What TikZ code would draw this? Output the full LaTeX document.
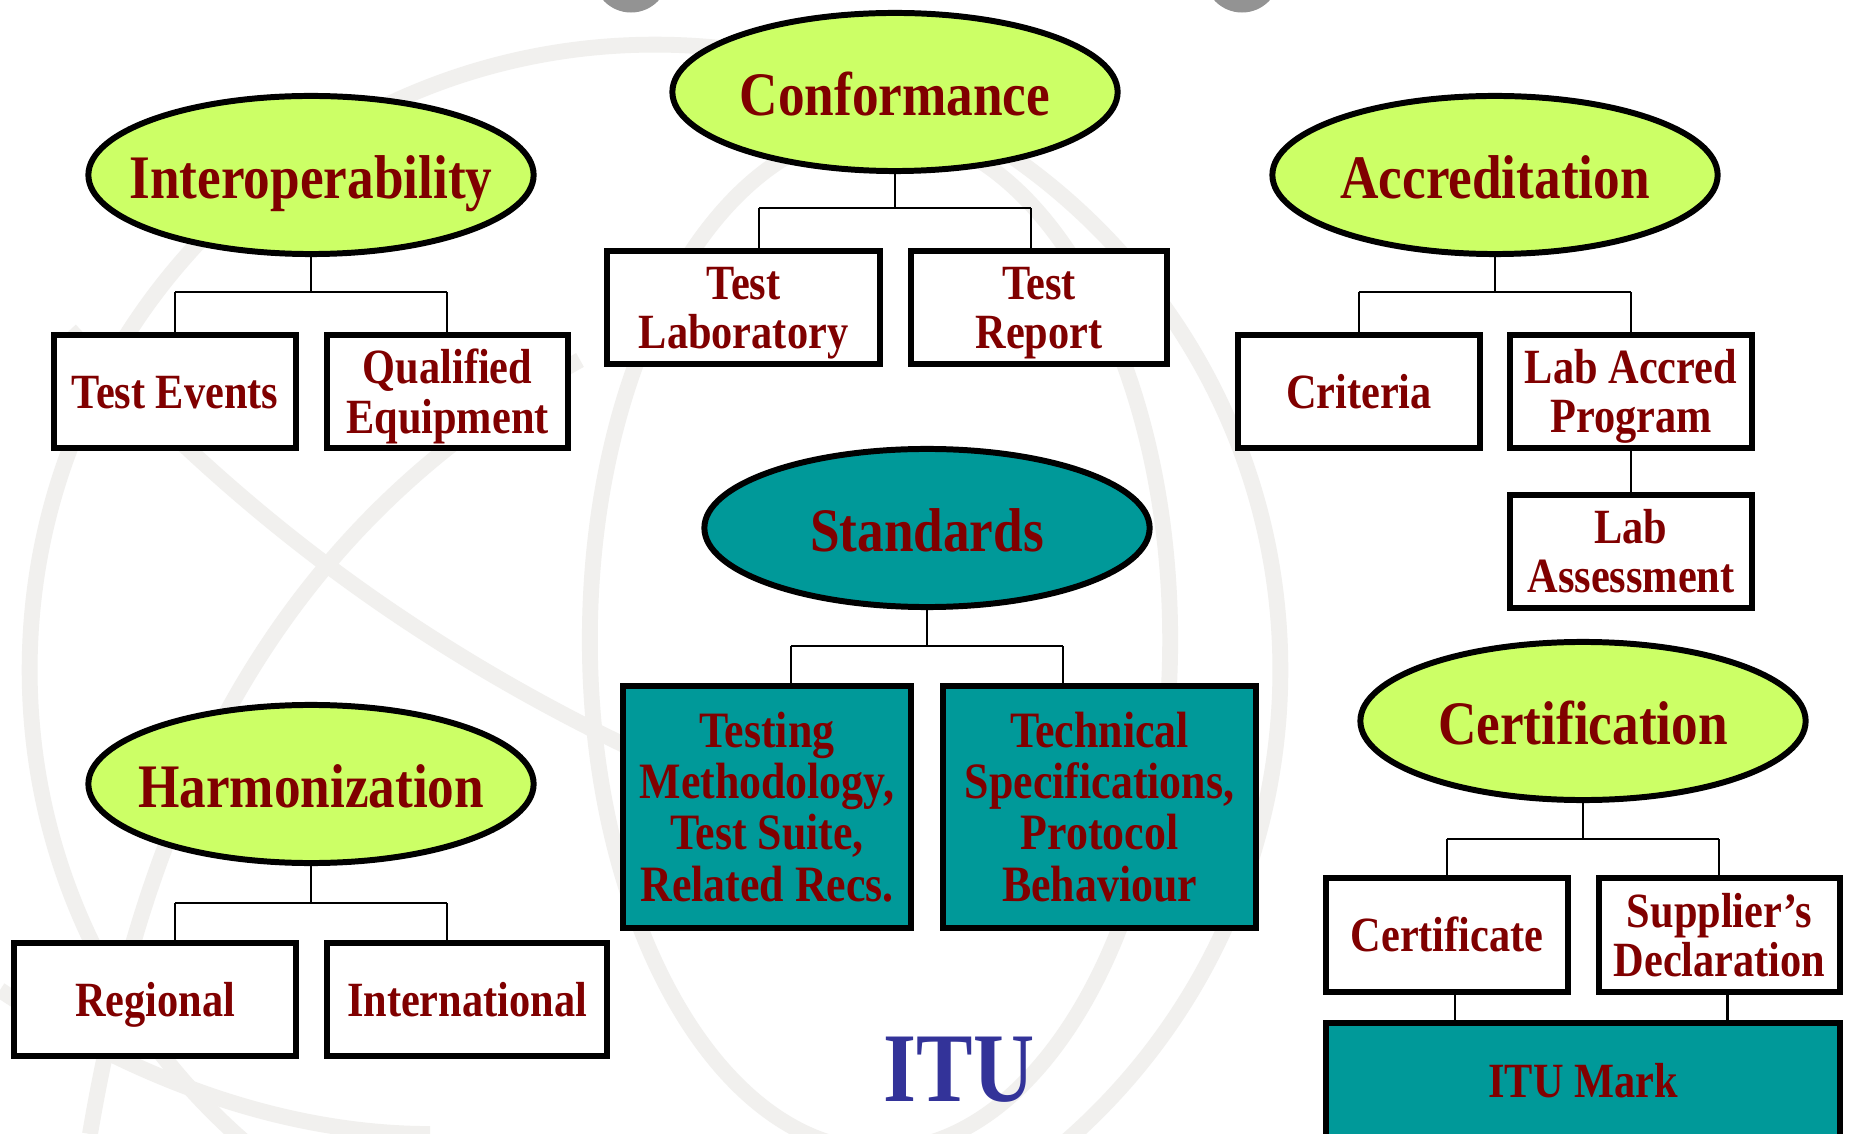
\documentclass[tikz,border=0pt]{standalone}
\usepackage{fontspec}
\usetikzlibrary{shapes.geometric}
\newfontfamily\labfont[FakeStretch=0.86]{Liberation Serif}
\definecolor{lgreen}{HTML}{CCFF66}
\definecolor{dred}{HTML}{800000}
\definecolor{tealc}{HTML}{009999}
\definecolor{globe}{HTML}{F1F0EE}
\definecolor{itublue}{HTML}{333399}
\tikzset{
  ell/.style={ellipse, draw=black, line width=1.7pt, fill=lgreen, minimum width=4.45cm, minimum height=1.58cm, inner sep=0pt},
  etxt/.style={anchor=base, inner sep=0pt, text=dred, font={\labfont\bfseries\fontsize{17.6pt}{20pt}\selectfont}},
  boxn/.style={rectangle, draw=black, line width=1.6pt, fill=white, inner sep=0pt},
  btxt/.style={inner sep=0pt, align=center, text=dred, font={\labfont\bfseries\fontsize{14pt}{14pt}\selectfont}},
  ttxt/.style={btxt, font={\labfont\bfseries\fontsize{14.5pt}{14.6pt}\selectfont}},
  conn/.style={line width=0.6pt, draw=black},
  globeline/.style={draw=globe, line width=4.5pt}
}
\begin{document}
\begin{tikzpicture}[x=0.01cm,y=-0.01cm]
\useasboundingbox (0,0) rectangle (1849,1134);
\fill[white] (0,0) rectangle (1849,1134);
% background globe
\begin{scope}
\clip (0,0) rectangle (1849,1134);
\draw[globeline] (655,670) circle[radius=6.25cm];
\draw[globeline] (70,330) .. controls (200,470) and (380,640) .. (700,780);
\draw[globeline] (90,1134) .. controls (150,780) and (290,520) .. (580,360);
\draw[globeline] (880,640) ellipse[x radius=2.9cm, y radius=5.1cm];
\draw[globeline] (0,990) .. controls (150,1090) and (300,1134) .. (430,1134);
\fill[gray!85] (631,-25) circle[radius=0.375cm];
\fill[gray!85] (1242,-25) circle[radius=0.375cm];
\end{scope}
% ellipses
\node[ell] (CF) at (895,92) {};
\node[ell] (IO) at (311,175) {};
\node[ell] (AC) at (1495,175) {};
\node[ell, fill=tealc] (ST) at (927,528) {};
\node[ell] (CT) at (1583,721) {};
\node[ell] (HM) at (311,784) {};
\node[etxt] (CFt) at ([yshift=-6.6pt]CF.center) {Conformance};
\node[etxt] (IOt) at ([yshift=-6.6pt]IO.center) {Interoperability};
\node[etxt] (ACt) at ([yshift=-6.6pt]AC.center) {Accreditation};
\node[etxt] (STt) at ([yshift=-6.6pt]ST.center) {Standards};
\node[etxt] (CTt) at ([yshift=-6.6pt]CT.center) {Certification};
\node[etxt] (HMt) at ([yshift=-6.6pt]HM.center) {Harmonization};
% boxes
\node[boxn, minimum width=2.42cm, minimum height=1.13cm] (TE) at (175,391.5) {};
\node[boxn, minimum width=2.41cm, minimum height=1.13cm] (QE) at (447.5,391.5) {};
\node[boxn, minimum width=2.73cm, minimum height=1.13cm] (TL) at (743.5,307.5) {};
\node[boxn, minimum width=2.56cm, minimum height=1.13cm] (TR) at (1039,307.5) {};
\node[boxn, minimum width=2.42cm, minimum height=1.13cm] (CR) at (1359,391.5) {};
\node[boxn, minimum width=2.42cm, minimum height=1.13cm] (LP) at (1631,391.5) {};
\node[boxn, minimum width=2.42cm, minimum height=1.13cm] (LA) at (1631,551.5) {};
\node[boxn, fill=tealc, minimum width=2.88cm, minimum height=2.42cm] (TM) at (767,807) {};
\node[boxn, fill=tealc, minimum width=3.13cm, minimum height=2.42cm] (TS) at (1099.5,807) {};
\node[boxn, minimum width=2.82cm, minimum height=1.13cm] (RG) at (155,999.5) {};
\node[boxn, minimum width=2.80cm, minimum height=1.13cm] (IN) at (467,999.5) {};
\node[boxn, minimum width=2.42cm, minimum height=1.14cm] (CE) at (1447,935) {};
\node[boxn, minimum width=2.41cm, minimum height=1.14cm] (SD) at (1719.5,935) {};
\node[boxn, fill=tealc, minimum width=5.14cm, minimum height=1.22cm] (IM) at (1583,1084) {};
% box texts
\node[btxt] (TEt) at ([yshift=-2pt]TE.center) {\strut Test Events};
\node[btxt] (QEt) at ([yshift=-2pt]QE.center) {\strut Qualified\\Equipment\strut};
\node[btxt] (TLt) at ([yshift=-2pt]TL.center) {\strut Test\\Laboratory\strut};
\node[btxt] (TRt) at ([yshift=-2pt]TR.center) {\strut Test\\Report\strut};
\node[btxt] (CRt) at ([yshift=-2pt]CR.center) {\strut Criteria};
\node[btxt] (LPt) at ([yshift=-2pt]LP.center) {\strut Lab Accred\\Program\strut};
\node[btxt] (LAt) at ([yshift=-2pt]LA.center) {\strut Lab\\Assessment\strut};
\node[ttxt] (TMt) at ([yshift=-2pt]TM.center) {\strut Testing\\Methodology,\\Test Suite,\\Related Recs.\strut};
\node[ttxt] (TSt) at ([yshift=-2pt]TS.center) {\strut Technical\\Specifications,\\Protocol\\Behaviour\strut};
\node[btxt] (RGt) at ([yshift=-2pt]RG.center) {\strut Regional};
\node[btxt] (INt) at ([yshift=-2pt]IN.center) {\strut International};
\node[btxt] (CEt) at ([yshift=-2pt]CE.center) {\strut Certificate};
\node[btxt] (SDt) at ([yshift=-2pt]SD.center) {\strut Supplier’s\\Declaration\strut};
\node[btxt, anchor=base] (IMt) at (1583,1097) {ITU Mark};
% ITU text
\node[text=itublue, font={\labfont\bfseries\fontsize{28pt}{30pt}\selectfont}] (ITU) at (959,1070) {ITU};
% connectors
\foreach \p/\a/\b/\d in {IO/TE/QE/35, CF/TL/TR/34, AC/CR/LP/35, ST/TM/TS/36, HM/RG/IN/37, CT/CE/SD/36}{
  \draw[conn] (\p.south) -- ++(0,\d) coordinate (j\p);
  \draw[conn] ([xshift=-1.36cm]j\p) -- ([xshift=1.36cm]j\p);
  \draw[conn] ([xshift=-1.36cm]j\p) -- ([xshift=-1.36cm]j\p |- \a.north);
  \draw[conn] ([xshift=1.36cm]j\p) -- ([xshift=1.36cm]j\p |- \b.north);
}
\draw[conn] (LP.south) -- (LA.north);
\draw[conn] ([xshift=0.08cm]CE.south) -- ([xshift=0.08cm]CE.south |- IM.north);
\draw[conn] ([xshift=0.08cm]SD.south) -- ([xshift=0.08cm]SD.south |- IM.north);
\end{tikzpicture}
\end{document}
